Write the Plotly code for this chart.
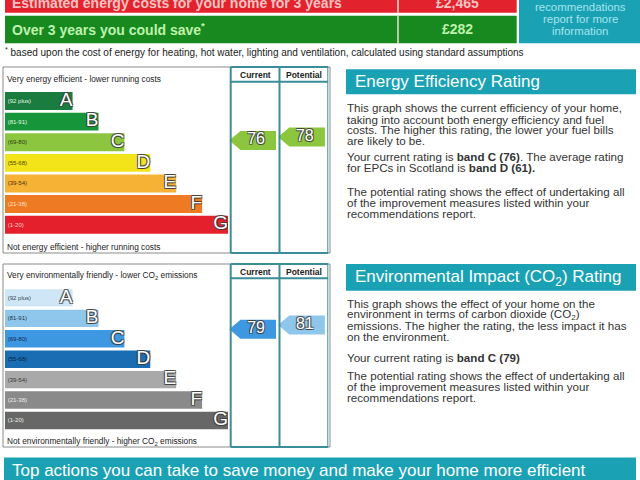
import plotly.graph_objects as go

W, H = 640, 480
FONT = "Liberation Sans, Arial, sans-serif"

# ---------------- data ----------------
bands = ["A", "B", "C", "D", "E", "F", "G"]
band_ranges = ["(92 plus)", "(81-91)", "(69-80)", "(55-68)", "(39-54)", "(21-38)", "(1-20)"]
band_lower = [92, 81, 69, 55, 39, 21, 1]
band_length = [1, 2, 3, 4, 5, 6, 7]
columns = ["Current", "Potential"]
energy_ratings = [76, 78]
env_ratings = [79, 81]
scotland_avg_energy = 61
cost_labels = ["Estimated energy costs for your home for 3 years",
               "Over 3 years you could save<sup>*</sup>"]
cost_values = ["£2,465", "£282"]
teal_box_lines = ["recommendations", "report for more", "information"]

# ---------------- styles ----------------
energy_colors = ["#1b7c3f", "#17953a", "#8cc63f", "#f3e41a", "#f5b235", "#ee7a24", "#e3202c"]
env_colors = ["#cfe6f7", "#8fc6ec", "#3e97e1", "#1b6db3", "#a9a9a9", "#8a8a8a", "#676767"]
energy_label_colors = ["#e8f5e8", "#e8f5e8", "#2a3a10", "#4a4a10", "#4a3010", "#fde0c8", "#fcd0d0"]
env_label_colors = ["#334455", "#223344", "#102a50", "#0a2040", "#333333", "#eeeeee", "#eeeeee"]
TEAL = "#1aa2b4"
FRAME_TEAL = "#3a8e99"
OUTLINE = ("-1px -1px 0 rgba(60,60,60,0.75), 1px -1px 0 rgba(60,60,60,0.75), "
           "-1px 1px 0 rgba(60,60,60,0.75), 1px 1px 0 rgba(60,60,60,0.75)")
BAR_OFFSET = 1.62
TEXT_NUDGE = 2.0


def px(x):
    return x / W


def py(y):
    return 1 - y / H


def band_of(r):
    for i, lo in enumerate(band_lower):
        if r >= lo:
            return i
    return len(bands) - 1


fig = go.Figure()
shapes = []
annotations = []
layout_axes = {}


def ann(x, y, text, size, color="#333333", xanchor="left", yanchor="middle", **kw):
    if xanchor == "left":
        x = x - TEXT_NUDGE
    annotations.append(dict(x=px(x), y=py(y), xref="paper", yref="paper", text=text,
                            showarrow=False, xanchor=xanchor, yanchor=yanchor,
                            font=dict(family=FONT, size=size, color=color), **kw))


def rect(x0, y0, x1, y1, fill, line=None, lw=0):
    shapes.append(dict(type="rect", xref="paper", yref="paper", x0=px(x0), x1=px(x1),
                       y0=py(y1), y1=py(y0), fillcolor=fill,
                       line=dict(width=lw, color=line or fill), layer="below"))


# ---------------- top cost rows ----------------
rect(5, -5, 516.7, 12.7, "#e2232d")
rect(5, 15.7, 516.7, 43.3, "#17891f")
for (y0, y1) in [(-5, 12.7), (15.7, 43.3)]:
    shapes.append(dict(type="line", xref="paper", yref="paper", x0=px(398), x1=px(398),
                       y0=py(y0), y1=py(y1), line=dict(color="#f3e0d0", width=1.5)))
rect(519, -5, 645, 43.3, TEAL)
row_y = [2.6, 29.0]
row_colors = ["#f8c2c2", "#bff2ad"]
for lbl, val, yy, cc in zip(cost_labels, cost_values, row_y, row_colors):
    ann(12, yy, "<b>" + lbl + "</b>", 14, cc)
    ann(457, yy, "<b>" + val + "</b>", 14, cc, xanchor="center")
for i, t in enumerate(teal_box_lines):
    ann(580, 6.7 + 12 * i, t, 11.4, "#a6e4ee", xanchor="center")
ann(5, 51.7, "<sup>*</sup> based upon the cost of energy for heating, hot water, lighting and ventilation, "
    "calculated using standard assumptions", 10, "#222222")

# ---------------- charts ----------------
charts = [
    dict(ratings=energy_ratings, colors=energy_colors, label_colors=energy_label_colors,
         n_bar=1, n_col=2, top=90.7, bot=235.0, rrange=[22.0, 104.46], width=0.87,
         box=(3, 67, 330, 253), head=81.7, head_y=75,
         top_text="Very energy efficient - lower running costs", top_y=79.3,
         bot_text="Not energy efficient - higher running costs", bot_y=246.7),
    dict(ratings=env_ratings, colors=env_colors, label_colors=env_label_colors,
         n_bar=3, n_col=4, top=287.7, bot=430.7, rrange=[31.84, 98.35], width=0.85,
         box=(3, 264, 330, 447), head=278.3, head_y=271.7,
         top_text="Very environmentally friendly - lower CO<sub>2</sub> emissions", top_y=275,
         bot_text="Not environmentally friendly - higher CO<sub>2</sub> emissions", bot_y=441.7),
]

COL_UNIT = 48.8
COL_LEFT = 230.7
COL_RANGE = [-0.1, 2.0]

for ch in charts:
    nb, nc = ch["n_bar"], ch["n_col"]
    sb = "" if nb == 1 else str(nb)
    sc = str(nc)
    dom_y = [py(ch["bot"]), py(ch["top"])]
    layout_axes["xaxis" + sb] = dict(domain=[px(4.7), px(228)], range=[0, 7 + BAR_OFFSET],
                                     visible=False, fixedrange=True, anchor="y" + sb)
    layout_axes["yaxis" + sb] = dict(domain=dom_y, type="category", categoryorder="array",
                                     categoryarray=bands, range=[6.5, -0.5], visible=False,
                                     anchor="x" + sb)
    x0c = COL_LEFT + COL_RANGE[0] * COL_UNIT
    x1c = COL_LEFT + COL_RANGE[1] * COL_UNIT
    layout_axes["xaxis" + sc] = dict(domain=[px(x0c), px(x1c)], range=COL_RANGE,
                                     visible=False, fixedrange=True, anchor="y" + sc)
    layout_axes["yaxis" + sc] = dict(domain=dom_y, range=ch["rrange"], visible=False,
                                     anchor="x" + sc)

    ends = [k + BAR_OFFSET for k in band_length]
    fig.add_trace(go.Bar(
        x=ends, y=bands, orientation="h", width=ch["width"],
        marker=dict(color=ch["colors"], line=dict(width=0)),
        text=band_ranges, textposition="inside", insidetextanchor="start", textangle=0,
        textfont=dict(size=6, color=ch["label_colors"], family=FONT),
        xaxis="x" + sb, yaxis="y" + sb, hoverinfo="skip"))
    fig.add_trace(go.Scatter(
        x=ends, y=bands, mode="text", text=bands, textposition="middle left",
        textfont=dict(size=19, color="white", family=FONT, shadow=OUTLINE),
        xaxis="x" + sb, yaxis="y" + sb, hoverinfo="skip", cliponaxis=False))

    hh = 9.5 * (ch["rrange"][1] - ch["rrange"][0]) / (ch["bot"] - ch["top"])
    for i, r in enumerate(ch["ratings"]):
        c = ch["colors"][band_of(r)]
        xs = [i - 0.03, i + 0.2, i + 0.93, i + 0.93, i + 0.2, i - 0.03]
        ys = [r, r + hh, r + hh, r - hh, r - hh, r]
        fig.add_trace(go.Scatter(x=xs, y=ys, mode="lines", fill="toself", fillcolor=c,
                                 line=dict(width=0, color=c), xaxis="x" + sc, yaxis="y" + sc,
                                 hoverinfo="skip"))
    fig.add_trace(go.Scatter(
        x=[i + 0.52 for i in range(len(ch["ratings"]))], y=ch["ratings"], mode="text",
        text=[str(r) for r in ch["ratings"]], textposition="middle center",
        textfont=dict(size=16, color="white", family=FONT, shadow=OUTLINE),
        xaxis="x" + sc, yaxis="y" + sc, hoverinfo="skip", cliponaxis=False))

    # frame
    bx0, by0, bx1, by1 = ch["box"]
    shapes.append(dict(type="rect", xref="paper", yref="paper", x0=px(bx0), x1=px(bx1),
                       y0=py(by1), y1=py(by0), line=dict(color="#8a8a8a", width=1),
                       fillcolor="rgba(0,0,0,0)", layer="below"))
    for k in range(len(columns) + 1):
        shapes.append(dict(type="line", xref="x" + sc, yref="paper", x0=k, x1=k,
                           y0=py(by1), y1=py(by0), line=dict(color=FRAME_TEAL, width=2)))
    for yy in (by0, ch["head"], by1):
        shapes.append(dict(type="line", xref="x" + sc, yref="paper", x0=0, x1=len(columns),
                           y0=py(yy), y1=py(yy), line=dict(color=FRAME_TEAL, width=2)))
    for k, name in enumerate(columns):
        annotations.append(dict(x=k + 0.5, y=py(ch["head_y"]), xref="x" + sc, yref="paper",
                                text="<b>" + name + "</b>", showarrow=False,
                                xanchor="center", yanchor="middle",
                                font=dict(family=FONT, size=8.5, color="#222222")))
    ann(7, ch["top_y"], ch["top_text"], 8.3, "#222222")
    ann(7, ch["bot_y"], ch["bot_text"], 8.3, "#222222")

# ---------------- text panels ----------------
ee_band = bands[band_of(energy_ratings[0])]
avg_band = bands[band_of(scotland_avg_energy)]
ei_band = bands[band_of(env_ratings[0])]
PARA = 11.6

rect(346, 69.3, 636, 94.3, TEAL)
ann(355, 81.3, "Energy Efficiency Rating", 17, "white")
energy_lines = [
    (107.7, "This graph shows the current efficiency of your home,"),
    (119.0, "taking into account both energy efficiency and fuel"),
    (130.0, "costs. The higher this rating, the lower your fuel bills"),
    (140.7, "are likely to be."),
    (156.7, "Your current rating is <b>band %s (%d)</b>. The average rating" % (ee_band, energy_ratings[0])),
    (167.3, "for EPCs in Scotland is <b>band %s (%d).</b>" % (avg_band, scotland_avg_energy)),
    (191.7, "The potential rating shows the effect of undertaking all"),
    (202.7, "of the improvement measures listed within your"),
    (213.7, "recommendations report."),
]
for yy, t in energy_lines:
    ann(346.7, yy, t, PARA, "#333333")

rect(346, 264, 636, 290.7, TEAL)
ann(355, 277.8, "Environmental Impact (CO<sub>2</sub>) Rating", 17, "white")
env_lines = [
    (303.3, "This graph shows the effect of your home on the"),
    (314.3, "environment in terms of carbon dioxide (CO<sub>2</sub>)"),
    (325.7, "emissions. The higher the rating, the less impact it has"),
    (336.7, "on the environment."),
    (357.3, "Your current rating is <b>band %s (%d)</b>" % (ei_band, env_ratings[0])),
    (375.0, "The potential rating shows the effect of undertaking all"),
    (386.0, "of the improvement measures listed within your"),
    (397.3, "recommendations report."),
]
for yy, t in env_lines:
    ann(346.7, yy, t, PARA, "#333333")

# ---------------- bottom banner ----------------
rect(4, 457.5, 636, 485, TEAL)
ann(12, 470.5, "Top actions you can take to save money and make your home more efficient",
    17, "white")

fig.update_layout(
    width=W, height=H, margin=dict(l=0, r=0, t=0, b=0, pad=0),
    paper_bgcolor="white", plot_bgcolor="rgba(0,0,0,0)", showlegend=False,
    shapes=shapes, annotations=annotations, barmode="overlay",
    font=dict(family=FONT), **layout_axes)

fig.write_html("out.html")
